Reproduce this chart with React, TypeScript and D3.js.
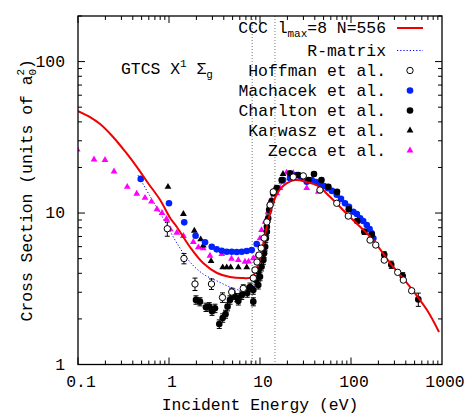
import React, { useEffect, useRef } from 'react';
import * as d3 from 'd3';

// CCC lmax=8 N=556 (solid red)
const cccEnergy = [0.1, 0.1355, 0.175, 0.243, 0.328, 0.445, 0.587, 0.8, 1.03, 1.22, 1.7, 2.37, 3.37, 4.68, 6.5, 8.17, 9.51, 10.8, 12.2, 13.9, 15.8, 18.4, 24.3, 32.8, 43.4, 58.7, 97.5, 175, 268, 413, 684, 927];
const cccSigma = [47.1, 43.0, 38.7, 31.8, 25.6, 20.1, 15.8, 12.2, 9.27, 8.09, 5.97, 4.68, 4.02, 3.78, 3.72, 3.78, 4.54, 6.15, 8.72, 11.6, 13.8, 15.3, 16.5, 16.0, 15.1, 12.8, 9.41, 6.63, 4.68, 3.45, 2.29, 1.64];

// R-matrix (blue dotted)
const rmatEnergy = [0.456, 0.62, 0.859, 1.22, 1.7, 2.37, 3.37, 4.68, 6.5, 8.17, 9.51, 11.1, 12.9, 15.0, 17.9, 22.5, 27.5];
const rmatSigma = [17.8, 12.9, 9.27, 6.34, 4.75, 3.96, 3.56, 3.25, 3.06, 3.1, 4.08, 6.15, 9.7, 13.1, 16.0, 17.3, 17.3];

const hoffmanEnergy = [0.958, 1.46, 1.93, 2.93, 3.87, 4.89, 6.55, 8.44, 8.81, 9.27, 9.75, 10.3, 11.1, 11.9, 12.9, 14.0, 23.2, 29.9, 45.6, 69.7, 93.4, 162, 187, 232, 326, 376, 464];
const hoffmanSigma = [7.88, 5.01, 3.4, 3.4, 2.77, 3.01, 3.18, 3.72, 4.21, 4.75, 5.28, 5.87, 6.84, 8.73, 11.3, 13.8, 17.3, 17.6, 14.2, 11.6, 9.55, 6.63, 6.15, 4.89, 4.06, 3.61, 3.07];
const hoffmanErr = [0.85, 0.39, 0.32, 0.27, 0.2, 0.18, 0.18, 0.15, 0.15, 0.15, 0.15, 0.15, 0.15, 0.2, 0, 0, 0, 0, 0, 0, 0, 0, 0, 0, 0, 0, 0];

const machacekEnergy = [0.489, 1.0, 1.47, 1.96, 2.49, 2.95, 3.34, 3.8, 4.31, 4.89, 5.55, 6.3, 7.15, 8.11, 9.2, 12.9, 15.0, 17.9, 21.4, 25.3, 28.7, 32.6, 37.0, 41.2, 45.6, 50.5, 55.8, 61.8, 69.7, 77.6, 85.9, 95.0, 106, 116, 126, 136, 149, 160, 169, 176];
const machacekSigma = [16.8, 11.6, 8.68, 7.08, 6.41, 5.99, 5.76, 5.64, 5.55, 5.55, 5.53, 5.55, 5.61, 5.7, 6.24, 11.3, 14.2, 16.5, 17.0, 17.8, 17.3, 16.1, 16.5, 16.0, 15.7, 15.1, 14.6, 14.0, 13.2, 12.4, 11.6, 11.0, 10.2, 9.85, 9.23, 8.86, 8.33, 7.84, 7.35, 6.81];

const charltonEnergy = [1.98, 2.19, 2.55, 2.77, 2.97, 3.2, 3.57, 3.89, 4.18, 4.4, 4.68, 5.09, 5.55, 5.78, 6.3, 6.84, 7.25, 7.76, 8.44, 8.44, 9.04, 9.57, 9.57, 10.0, 10.4, 10.9, 11.1, 11.4, 11.6, 11.9, 11.9, 12.3, 12.6, 13.4, 14.0, 15.3, 17.3, 21.4, 26.4, 34.0, 39.2, 47.4, 56.4, 70.2, 94.4, 117, 140, 169, 232, 277, 370, 549];
const charltonSigma = [2.67, 2.6, 2.39, 2.41, 2.25, 2.35, 1.85, 2.03, 2.15, 2.41, 2.67, 2.87, 2.77, 2.63, 2.87, 3.1, 2.96, 3.25, 3.1, 2.6, 3.61, 3.35, 4.1, 3.8, 4.42, 4.89, 5.42, 5.99, 6.81, 7.53, 8.12, 9.23, 10.5, 11.9, 13.5, 14.6, 16.5, 18.3, 17.8, 16.5, 18.1, 16.5, 14.9, 13.8, 10.6, 8.86, 7.53, 7.21, 5.3, 4.56, 3.84, 2.69];
const charltonErr = [0.17, 0.16, 0.15, 0.15, 0.14, 0.15, 0.12, 0.13, 0.13, 0.15, 0.17, 0.18, 0.17, 0.16, 0.18, 0.19, 0.18, 0.2, 0.19, 0.16, 0.22, 0.2, 0.25, 0.23, 0.27, 0.3, 0.33, 0.36, 0.4, 0.45, 0.45, 0.5, 0.5, 0.5, 0.5, 0.5, 0.5, 0.5, 0.5, 0.5, 0.5, 0.5, 0.45, 0.4, 0.35, 0.3, 0.3, 0.25, 0.25, 0.25, 0.2, 0.27];

const karwaszEnergy = [0.975, 1.44, 1.9, 2.23, 2.38, 2.9, 3.89, 4.31, 4.76, 5.78, 7.15, 17.9];
const karwaszSigma = [14.9, 9.85, 7.64, 6.7, 6.1, 4.82, 4.38, 4.38, 4.38, 4.38, 4.38, 18.1];

const zeccaEnergy = [0.098, 0.15, 0.198, 0.249, 0.348, 0.442, 0.545, 0.642, 0.738, 0.838, 0.939, 1.03, 1.22, 1.44, 1.85, 2.1, 2.38, 2.82, 3.8, 4.86, 5.78, 6.84, 7.48, 8.44, 9.2, 10.0, 10.4, 11.4, 12.3, 13.4, 15.3, 16.6, 17.3, 19.6, 21.4, 23.2, 27.5, 32.6, 43.7];
const zeccaSigma = [26.3, 22.6, 22.4, 18.8, 14.9, 13.4, 12.6, 11.9, 10.6, 10.0, 9.13, 7.8, 7.41, 7.05, 6.44, 5.94, 5.85, 5.23, 5.36, 4.99, 4.89, 4.77, 4.78, 5.02, 5.23, 6.81, 7.72, 8.76, 10.2, 12.3, 13.5, 14.6, 16.1, 18.5, 17.8, 18.3, 16.9, 14.6, 13.8];

const thresholds = [8.2, 14.6];
const xTicks = [0.1, 1, 10, 100, 1000];
const yTicks = [1, 10, 100];

const FONT = '"Liberation Mono", "DejaVu Sans Mono", monospace';

const App = () => {
  const svgRef = useRef(null);

  useEffect(() => {
    const svg = d3.select(svgRef.current);
    svg.selectAll('*').remove();

    const left = 78, right = 442, top = 16, bottom = 364.5;
    const x = d3.scaleLog().domain([0.1, 1000]).range([left, right]);
    const y = d3.scaleLog().domain([1, 200]).range([bottom, top]);

    const defs = svg.append('defs');
    defs.append('clipPath').attr('id', 'plotclip')
      .append('rect').attr('x', left).attr('y', top)
      .attr('width', right - left).attr('height', bottom - top);

    // ticks (inward, mirrored)
    const ticks = svg.append('g').attr('stroke', '#000').attr('stroke-width', 1);
    for (let d = -1; d < 3; d++) {
      for (let m = 1; m < 10; m++) {
        const v = m * Math.pow(10, d);
        const len = m === 1 ? 7 : 4;
        const px = x(v);
        ticks.append('line').attr('x1', px).attr('x2', px).attr('y1', bottom).attr('y2', bottom - len);
        ticks.append('line').attr('x1', px).attr('x2', px).attr('y1', top).attr('y2', top + len);
      }
    }
    for (let d = 0; d < 3; d++) {
      for (let m = 1; m < 10; m++) {
        const v = m * Math.pow(10, d);
        if (v > 200) break;
        const len = m === 1 ? 7 : 4;
        const py = y(v);
        ticks.append('line').attr('y1', py).attr('y2', py).attr('x1', left).attr('x2', left + len);
        ticks.append('line').attr('y1', py).attr('y2', py).attr('x1', right).attr('x2', right - len);
      }
    }

    // tick labels
    svg.append('g').selectAll('text').data(xTicks).enter().append('text')
      .attr('x', d => x(d) + 3).attr('y', 387)
      .attr('text-anchor', 'middle')
      .attr('font-family', FONT).attr('font-size', 16.4)
      .text(d => String(d));
    svg.append('g').selectAll('text').data(yTicks).enter().append('text')
      .attr('x', 65).attr('y', d => y(d) + 5)
      .attr('text-anchor', 'end')
      .attr('font-family', FONT).attr('font-size', 16.4)
      .text(d => String(d));

    // axis titles
    svg.append('text')
      .attr('x', (left + right) / 2).attr('y', 409.5)
      .attr('text-anchor', 'middle')
      .attr('font-family', FONT).attr('font-size', 16.4)
      .text('Incident Energy (eV)');

    const yl = svg.append('text')
      .attr('transform', `translate(32,${(top + bottom) / 2}) rotate(-90)`)
      .attr('text-anchor', 'middle')
      .attr('font-family', FONT).attr('font-size', 16.4);
    yl.append('tspan').text('Cross Section (units of a');
    yl.append('tspan').attr('font-size', 11).attr('dy', 4).text('0');
    yl.append('tspan').attr('font-size', 11).attr('dx', -6.6).attr('dy', -12).text('2');
    yl.append('tspan').attr('dy', 8).text(')');

    // title
    const tt = svg.append('text')
      .attr('x', 121).attr('y', 74)
      .attr('font-family', FONT).attr('font-size', 16.4);
    tt.append('tspan').text('GTCS X');
    tt.append('tspan').attr('font-size', 11).attr('dy', -7).text('1');
    tt.append('tspan').attr('dy', 7).text(' \u03A3');
    tt.append('tspan').attr('font-size', 11).attr('dy', 4).text('g');

    // threshold lines
    svg.append('g').selectAll('line').data(thresholds).enter().append('line')
      .attr('x1', d => x(d)).attr('x2', d => x(d))
      .attr('y1', top).attr('y2', bottom)
      .attr('stroke', '#555').attr('stroke-width', 0.8)
      .attr('stroke-dasharray', '1,2');

    const plot = svg.append('g').attr('clip-path', 'url(#plotclip)');

    const line = d3.line()
      .x(d => x(d[0])).y(d => y(d[1]))
      .curve(d3.curveCatmullRom.alpha(0.5));

    // R-matrix
    plot.append('path')
      .datum(rmatEnergy.map((e, i) => [e, rmatSigma[i]]))
      .attr('d', line)
      .attr('fill', 'none').attr('stroke', '#0000ff')
      .attr('stroke-width', 1).attr('stroke-dasharray', '1.2,2');

    const tri = d3.symbol().type(d3.symbolTriangle).size(20);

    // Zecca
    plot.append('g').selectAll('path')
      .data(zeccaEnergy.map((e, i) => [e, zeccaSigma[i]])).enter().append('path')
      .attr('d', tri)
      .attr('transform', d => `translate(${x(d[0])},${y(d[1])})`)
      .attr('fill', '#ff00ff');

    // Karwasz
    plot.append('g').selectAll('path')
      .data(karwaszEnergy.map((e, i) => [e, karwaszSigma[i]])).enter().append('path')
      .attr('d', tri)
      .attr('transform', d => `translate(${x(d[0])},${y(d[1])})`)
      .attr('fill', '#000');

    // Machacek
    plot.append('g').selectAll('circle')
      .data(machacekEnergy.map((e, i) => [e, machacekSigma[i]])).enter().append('circle')
      .attr('cx', d => x(d[0])).attr('cy', d => y(d[1])).attr('r', 3.3)
      .attr('fill', '#0022ff');

    // error bars helper
    const errBars = (g, E, S, Err) => {
      E.forEach((e, i) => {
        if (!Err[i]) return;
        const px = x(e), y0 = y(S[i] - Err[i]), y1 = y(S[i] + Err[i]);
        g.append('line').attr('x1', px).attr('x2', px).attr('y1', y0).attr('y2', y1);
        g.append('line').attr('x1', px - 2.5).attr('x2', px + 2.5).attr('y1', y0).attr('y2', y0);
        g.append('line').attr('x1', px - 2.5).attr('x2', px + 2.5).attr('y1', y1).attr('y2', y1);
      });
    };

    // Charlton
    const cg = plot.append('g').attr('stroke', '#000').attr('stroke-width', 1);
    errBars(cg, charltonEnergy, charltonSigma, charltonErr);
    plot.append('g').selectAll('circle')
      .data(charltonEnergy.map((e, i) => [e, charltonSigma[i]])).enter().append('circle')
      .attr('cx', d => x(d[0])).attr('cy', d => y(d[1])).attr('r', 3.3)
      .attr('fill', '#000');

    // CCC
    plot.append('path')
      .datum(cccEnergy.map((e, i) => [e, cccSigma[i]]))
      .attr('d', line)
      .attr('fill', 'none').attr('stroke', '#f00000').attr('stroke-width', 2);

    // Hoffman
    const hg = plot.append('g').attr('stroke', '#000').attr('stroke-width', 1);
    errBars(hg, hoffmanEnergy, hoffmanSigma, hoffmanErr);
    plot.append('g').selectAll('circle')
      .data(hoffmanEnergy.map((e, i) => [e, hoffmanSigma[i]])).enter().append('circle')
      .attr('cx', d => x(d[0])).attr('cy', d => y(d[1])).attr('r', 3.2)
      .attr('fill', '#fff').attr('stroke', '#000').attr('stroke-width', 1);

    // legend
    const lg = svg.append('g').attr('font-family', FONT).attr('font-size', 16.4);
    const tx = 386, sx0 = 397, sx1 = 423, sx = 410;
    const ccc = lg.append('text').attr('x', tx).attr('y', 33).attr('text-anchor', 'end');
    ccc.append('tspan').text('CCC l');
    ccc.append('tspan').attr('font-size', 11).attr('dy', 4).text('max');
    ccc.append('tspan').attr('dy', -4).text('=8 N=556');
    lg.append('line').attr('x1', sx0).attr('x2', sx1).attr('y1', 28).attr('y2', 28)
      .attr('stroke', '#f00000').attr('stroke-width', 2);

    lg.append('text').attr('x', tx).attr('y', 55.5).attr('text-anchor', 'end').text('R-matrix');
    lg.append('line').attr('x1', sx0).attr('x2', sx1).attr('y1', 50.5).attr('y2', 50.5)
      .attr('stroke', '#0000ff').attr('stroke-width', 1).attr('stroke-dasharray', '1.2,2');

    const rows = [
      { label: 'Hoffman et al.', cy: 70.5 },
      { label: 'Machacek et al.', cy: 90.5 },
      { label: 'Charlton et al.', cy: 110.5 },
      { label: 'Karwasz et al.', cy: 130.5 },
      { label: 'Zecca et al.', cy: 150.5 },
    ];
    rows.forEach(r => {
      lg.append('text').attr('x', tx).attr('y', r.cy + 5).attr('text-anchor', 'end').text(r.label);
    });
    lg.append('circle').attr('cx', sx).attr('cy', 70.5).attr('r', 3.2)
      .attr('fill', '#fff').attr('stroke', '#000');
    lg.append('circle').attr('cx', sx).attr('cy', 90.5).attr('r', 3.3).attr('fill', '#0022ff');
    lg.append('circle').attr('cx', sx).attr('cy', 110.5).attr('r', 3.3).attr('fill', '#000');
    lg.append('path').attr('d', tri).attr('transform', `translate(${sx},130.5)`).attr('fill', '#000');
    lg.append('path').attr('d', tri).attr('transform', `translate(${sx},150.5)`).attr('fill', '#ff00ff');

    // frame
    svg.append('rect')
      .attr('x', left).attr('y', top)
      .attr('width', right - left).attr('height', bottom - top)
      .attr('fill', 'none').attr('stroke', '#000').attr('stroke-width', 1.3);
  }, []);

  return (
    <svg ref={svgRef} width={470} height={415}
      style={{ position: 'absolute', left: 0, top: 0, background: '#fff' }} />
  );
};

export default App;
